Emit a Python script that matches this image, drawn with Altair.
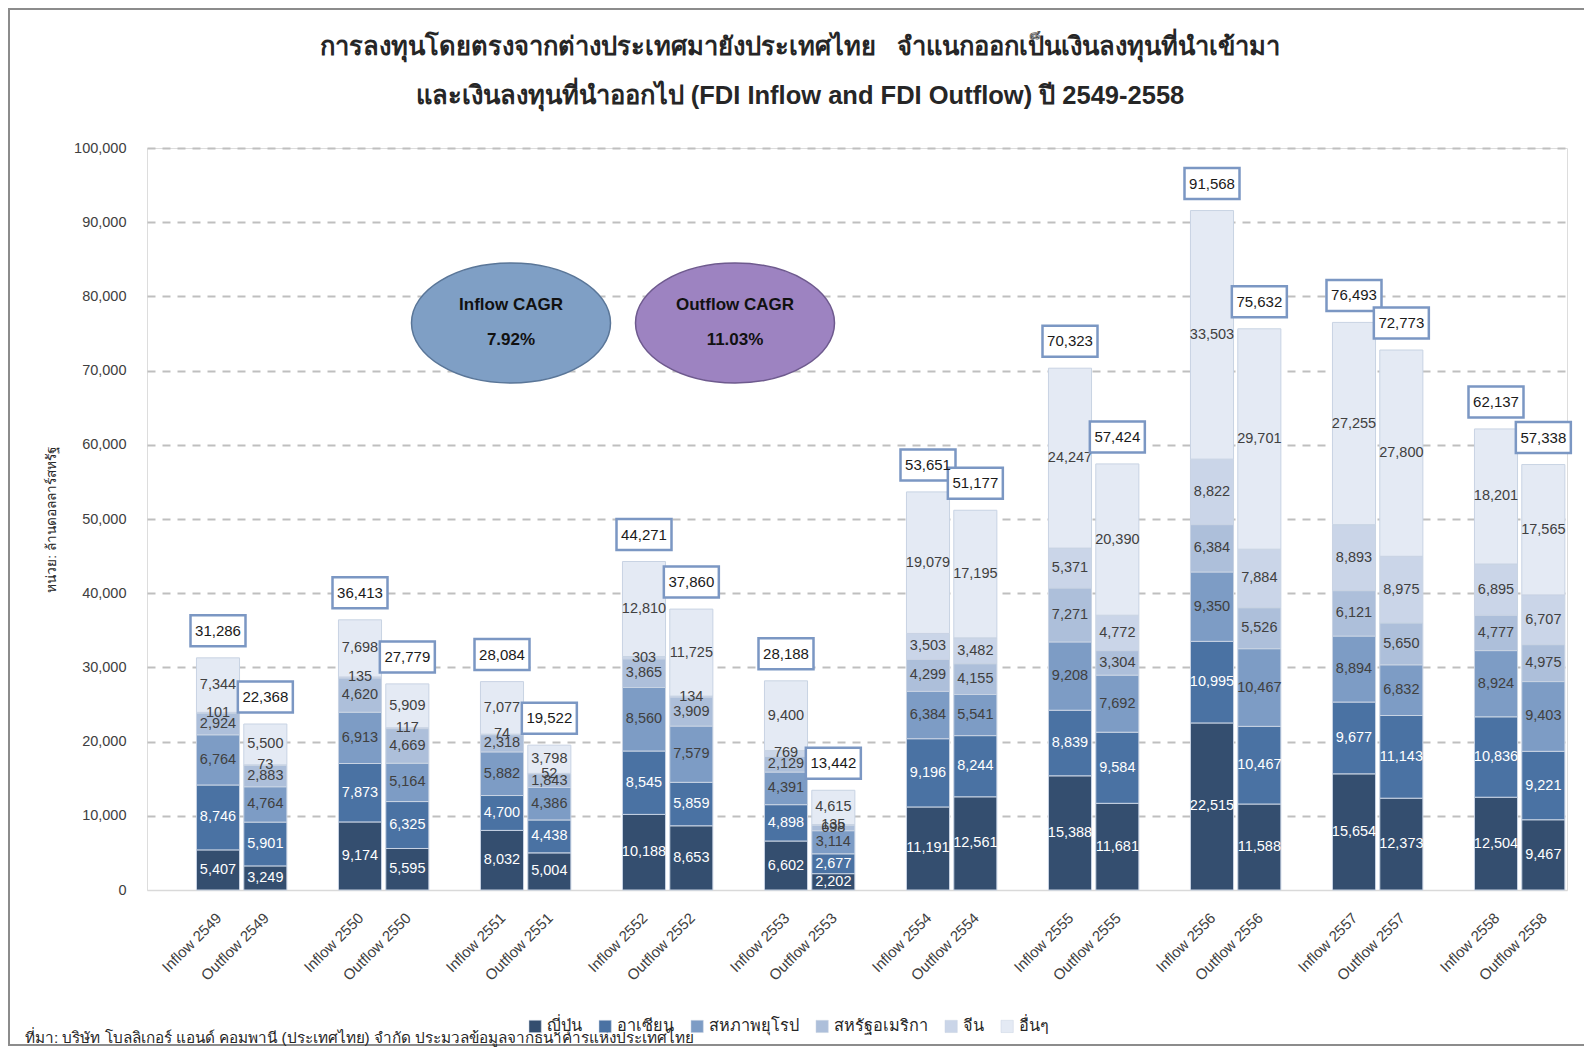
import altair as alt
import pandas as pd

years = [2549, 2550, 2551, 2552, 2553, 2554, 2555, 2556, 2557, 2558]
regions = ["ญี่ปุ่น", "อาเซียน", "สหภาพยุโรป", "สหรัฐอเมริกา", "จีน", "อื่นๆ"]
colors = ["#344e6f", "#4a72a3", "#7d9cc5", "#adbfda", "#cad5e8", "#e4eaf4"]
label_colors = ["#ffffff", "#ffffff", "#404040", "#404040", "#404040", "#404040"]

inflow_japan = [5407, 9174, 8032, 10188, 6602, 11191, 15388, 22515, 15654, 12504]
inflow_asean = [8746, 7873, 4700, 8545, 4898, 9196, 8839, 10995, 9677, 10836]
inflow_eu = [6764, 6913, 5882, 8560, 4391, 6384, 9208, 9350, 8894, 8924]
inflow_usa = [2924, 4620, 2318, 3865, 2129, 4299, 7271, 6384, 6121, 4777]
inflow_china = [101, 135, 74, 303, 769, 3503, 5371, 8822, 8893, 6895]
inflow_other = [7344, 7698, 7077, 12810, 9400, 19079, 24247, 33503, 27255, 18201]
inflow_total = [31286, 36413, 28084, 44271, 28188, 53651, 70323, 91568, 76493, 62137]

outflow_japan = [3249, 5595, 5004, 8653, 2202, 12561, 11681, 11588, 12373, 9467]
outflow_asean = [5901, 6325, 4438, 5859, 2677, 8244, 9584, 10467, 11143, 9221]
outflow_eu = [4764, 5164, 4386, 7579, 3114, 5541, 7692, 10467, 6832, 9403]
outflow_usa = [2883, 4669, 1843, 3909, 698, 4155, 3304, 5526, 5650, 4975]
outflow_china = [73, 117, 52, 134, 135, 3482, 4772, 7884, 8975, 6707]
outflow_other = [5500, 5909, 3798, 11725, 4615, 17195, 20390, 29701, 27800, 17565]
outflow_total = [22368, 27779, 19522, 37860, 13442, 51177, 57424, 75632, 72773, 57338]

title_lines = [
    "การลงทุนโดยตรงจากต่างประเทศมายังประเทศไทย\u00a0\u00a0 จำแนกออกเป็นเงินลงทุนที่นำเข้ามา",
    "และเงินลงทุนที่นำออกไป (FDI Inflow and FDI Outflow) ปี 2549-2558",
]
y_title = "หน่วย: ล้านดอลลาร์สหรัฐ"
source_text = "ที่มา: บริษัท โบลลิเกอร์ แอนด์ คอมพานี (ประเทศไทย) จำกัด ประมวลข้อมูลจากธนาคารแห่งประเทศไทย"
inflow_cagr = ["Inflow CAGR", "7.92%"]
outflow_cagr = ["Outflow CAGR", "11.03%"]

FONT = "Liberation Sans, Arial, sans-serif"
NARROW = "Liberation Sans Narrow, Arial Narrow, Liberation Sans, sans-serif"

flows = [
    ("Inflow", [inflow_japan, inflow_asean, inflow_eu, inflow_usa, inflow_china, inflow_other], inflow_total),
    ("Outflow", [outflow_japan, outflow_asean, outflow_eu, outflow_usa, outflow_china, outflow_other], outflow_total),
]

rows, tot_rows = [], []
for flow, series, totals in flows:
    for yi, yr in enumerate(years):
        base = 0
        slot = f"{flow} {yr}"
        for ri, reg in enumerate(regions):
            v = series[ri][yi]
            rows.append(dict(slot=slot, region=reg, idx=ri, value=v, start=base,
                             end=base + v, mid=base + v / 2, label=f"{v:,}",
                             lc=label_colors[ri]))
            base += v
        tot_rows.append(dict(slot=slot, total=totals[yi], label=f"{totals[yi]:,}"))

df = pd.DataFrame(rows)
tot = pd.DataFrame(tot_rows)

slot_domain = []
for yr in years:
    slot_domain += [f"gap {yr}", f"Inflow {yr}", f"Outflow {yr}"]

xscale = alt.Scale(domain=slot_domain, paddingInner=0.09, paddingOuter=0.045)
yscale = alt.Scale(domain=[0, 100000], nice=False)

x_axis = alt.Axis(
    title=None, labelExpr="indexof(datum.label, 'gap') == 0 ? '' : datum.label",
    labelAngle=315, ticks=False, domainColor="#d9d9d9", domainWidth=1.5,
    labelFont=NARROW, labelFontSize=15, labelColor="#404040", labelPadding=20,
    labelOffset=-4, labelOverlap=False, grid=False,
)
y_axis = alt.Axis(
    values=list(range(0, 100001, 10000)), format=",d", domain=False, ticks=False,
    labelFont=FONT, labelFontSize=14.5, labelColor="#404040", labelPadding=21,
    gridColor="#bfbfbf", gridWidth=2, gridDash=[8, 7],
    gridOpacity={"condition": {"test": "datum.value === 0", "value": 0}, "value": 1},
    titleFont=FONT, titleFontSize=13.7, titleFontWeight="normal", titleColor="#262626",
    titleAngle=270, titleAlign="center", titleBaseline="middle", titleX=-96, titleY=371,
)

X = alt.X("slot:N", scale=xscale, axis=x_axis, title=None)

bars = alt.Chart(df).mark_bar(stroke="#c8d3e3", strokeWidth=1).encode(
    x=X,
    y=alt.Y("start:Q", scale=yscale, axis=y_axis, title=y_title),
    y2="end:Q",
    color=alt.Color("region:N", scale=alt.Scale(domain=regions, range=colors),
                    legend=alt.Legend(title=None, orient="none", direction="horizontal",
                                      legendX=380, legendY=870, symbolType="square",
                                      symbolSize=150, symbolStrokeWidth=0.5,
                                      labelFont=FONT, labelFontSize=16.3, labelColor="#262626",
                                      columnPadding=14, labelOffset=4)),
    order=alt.Order("idx:Q"),
)

seg_labels = alt.Chart(df).mark_text(font=NARROW, fontSize=14.5, baseline="middle").encode(
    x=alt.X("slot:N", scale=xscale, title=None),
    y=alt.Y("mid:Q", scale=yscale, title=y_title),
    text="label:N",
    color=alt.Color("lc:N", scale=None),
)

box_path = "M-1,-0.5636L1,-0.5636L1,0.5636L-1,0.5636Z"
tot_boxes = alt.Chart(tot).mark_point(
    shape=box_path, size=3025, filled=True, fill="white", stroke="#7b97c3",
    strokeWidth=2.5, opacity=1, yOffset=-27,
).encode(
    x=alt.X("slot:N", scale=xscale, title=None),
    y=alt.Y("total:Q", scale=yscale, title=y_title),
)
tot_text = alt.Chart(tot).mark_text(font=NARROW, fontSize=15, color="#1a1a1a",
                                    baseline="middle", dy=-27).encode(
    x=alt.X("slot:N", scale=xscale, title=None),
    y=alt.Y("total:Q", scale=yscale, title=y_title),
    text="label:N",
)

one = alt.Data(values=[{"k": 1}])
ellipse_path = "M-1,0A1,0.603,0,1,1,1,0A1,0.603,0,1,1,-1,0Z"


def ellipse(cx, fill, stroke, lines):
    e = alt.Chart(one).mark_point(shape=ellipse_path, size=39601, filled=True,
                                  fill=fill, stroke=stroke, strokeWidth=1.5, opacity=1).encode(
        x=alt.value(cx), y=alt.value(175))
    t1 = alt.Chart(one).mark_text(font=FONT, fontSize=17, fontWeight="bold", color="#111111",
                                  baseline="middle").encode(
        x=alt.value(cx), y=alt.value(157), text=alt.value(lines[0]))
    t2 = alt.Chart(one).mark_text(font=FONT, fontSize=17, fontWeight="bold", color="#111111",
                                  baseline="middle").encode(
        x=alt.value(cx), y=alt.value(192), text=alt.value(lines[1]))
    return [e, t1, t2]


src = alt.Chart(one).mark_text(font=FONT, fontSize=15.3, color="#262626", align="left",
                               baseline="middle").encode(
    x=alt.value(-122), y=alt.value(890), text=alt.value(source_text))

frame = alt.Chart(one).mark_rect(fill="transparent", stroke="#8c8c8c", strokeWidth=2).encode(
    x=alt.value(-138), x2=alt.value(1460), y=alt.value(-139), y2=alt.value(897))

layers = [frame, bars, seg_labels, tot_boxes, tot_text]
layers += ellipse(364, "#7f9fc5", "#5a7698", inflow_cagr)
layers += ellipse(588, "#9d83c1", "#6e5a8e", outflow_cagr)
layers += [src]

chart = alt.layer(*layers).properties(
    width=1420, height=742,
    padding={"left": 139, "top": 140, "right": 17, "bottom": 160},
    autosize=alt.AutoSizeParams(type="none"),
    title=alt.TitleParams(text=title_lines, font=FONT, fontSize=25.5, fontWeight="bold",
                          color="#262626", anchor="middle", frame="group", dx=-57,
                          offset=0, dy=101, lineHeight=49),
).configure_view(stroke=None).configure(background="white")

chart.save("out.html", embed_options={"renderer": "svg", "actions": False})
